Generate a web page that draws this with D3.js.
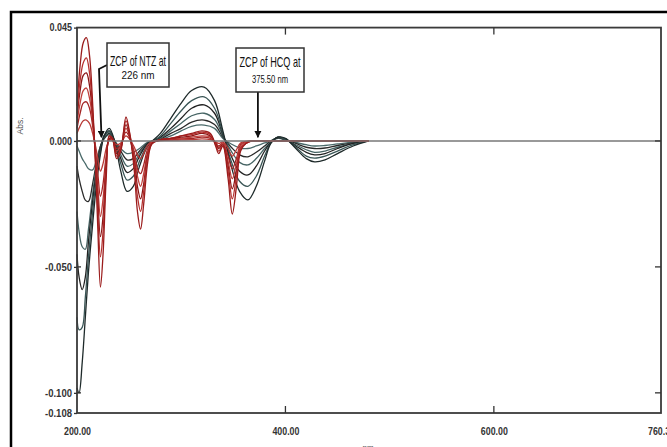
<!DOCTYPE html>
<html>
<head>
<meta charset="utf-8">
<script src="https://cdn.jsdelivr.net/npm/d3@7"></script>
<style>
  body { margin: 0; background: #fff; }
  svg { display: block; }
  .tick text { font-family: "Liberation Sans", Arial, sans-serif; }
</style>
</head>
<body>
<svg id="chart" width="667" height="447"></svg>
<script>
// wavelength grids (nm)
const redNm = [200, 203, 206, 209, 212, 215, 218, 220, 222.5, 225, 228, 231, 234, 238, 242, 247, 251, 255, 258, 261, 264, 268, 272, 280, 290, 300, 310, 320, 328, 333, 336, 340, 345, 349, 353, 357, 362, 368, 376, 390, 420, 480];
const darkNm = [200, 202, 205, 208, 211, 215, 219, 223, 226, 231, 236, 242, 248, 254, 260, 268, 280, 290, 300, 310, 322, 332, 340, 348, 356, 364, 372, 380, 386, 393, 400, 410, 420, 428, 438, 450, 465, 480];

// NTZ derivative spectra (red), smallest to largest
const red1 = [0.003, 0.006, 0.008, 0.0083, 0.007, 0.003, -0.0025, -0.007, -0.012, -0.009, -0.003, 0.0003, 0.0002, -0.0015, -0.0008, 0.002, 0.0004, -0.0025, -0.0055, -0.007, -0.005, -0.0016, -0.0002, 0.0001, 0.0003, 0.0004, 0.0005, 0.0008, 0.0005, -0.0004, -0.001, -0.0004, -0.003, -0.006, -0.0035, -0.0008, -0.0002, 0, 0, 0, 0, 0];
const red2 = [0.005, 0.011, 0.015, 0.0155, 0.013, 0.006, -0.005, -0.013, -0.022, -0.017, -0.006, 0.0005, 0.0005, -0.003, -0.0015, 0.0035, 0.0008, -0.0045, -0.011, -0.013, -0.0095, -0.003, -0.0005, 0.0002, 0.0005, 0.0008, 0.001, 0.0015, 0.001, -0.0008, -0.002, -0.0008, -0.006, -0.011, -0.007, -0.0015, -0.0004, 0, 0, 0, 0, 0];
const red3 = [0.007, 0.015, 0.020, 0.021, 0.017, 0.008, -0.006, -0.018, -0.030, -0.023, -0.008, 0.001, 0.0005, -0.004, -0.002, 0.005, 0.001, -0.006, -0.014, -0.018, -0.013, -0.004, -0.0005, 0.0003, 0.0008, 0.001, 0.0015, 0.002, 0.0015, -0.001, -0.0025, -0.001, -0.008, -0.015, -0.009, -0.002, -0.0005, 0, 0, 0, 0, 0];
const red4 = [0.009, 0.020, 0.026, 0.027, 0.022, 0.010, -0.008, -0.023, -0.038, -0.030, -0.010, 0.001, 0.001, -0.005, -0.003, 0.0065, 0.001, -0.008, -0.018, -0.023, -0.017, -0.005, -0.001, 0.0003, 0.001, 0.0015, 0.002, 0.003, 0.002, -0.001, -0.003, -0.0015, -0.010, -0.019, -0.012, -0.003, -0.001, 0, 0, 0, 0, 0];
const red5 = [0.011, 0.024, 0.031, 0.033, 0.027, 0.012, -0.010, -0.028, -0.046, -0.036, -0.012, 0.002, 0.001, -0.006, -0.003, 0.008, 0.002, -0.010, -0.022, -0.028, -0.020, -0.006, -0.001, 0.0005, 0.001, 0.002, 0.0025, 0.0035, 0.0025, -0.0015, -0.004, -0.002, -0.012, -0.023, -0.014, -0.003, -0.001, 0, 0, 0, 0, 0];
const red6 = [0.014, 0.030, 0.039, 0.041, 0.034, 0.015, -0.012, -0.035, -0.058, -0.045, -0.015, 0.002, 0.001, -0.007, -0.004, 0.0095, 0.002, -0.012, -0.028, -0.035, -0.025, -0.008, -0.001, 0.0005, 0.001, 0.002, 0.003, 0.004, 0.003, -0.002, -0.005, -0.002, -0.015, -0.029, -0.018, -0.004, -0.001, 0, 0, 0, 0, 0];

// HCQ derivative spectra (dark), smallest to largest
const dark1 = [-0.002, -0.004, -0.007, -0.009, -0.011, -0.0115, -0.007, -0.0015, 0.0008, 0.0025, 0.0, -0.003, -0.005, -0.0045, -0.003, -0.0005, 0.0005, 0.002, 0.004, 0.0058, 0.0063, 0.005, 0.001, -0.0012, -0.0027, -0.003, -0.002, -0.0008, 0, 0.001, 0.0004, -0.0006, -0.0015, -0.002, -0.0018, -0.0012, -0.0005, 0];
const dark2 = [-0.010, -0.015, -0.020, -0.0235, -0.024, -0.017, -0.008, -0.0015, 0.001, 0.003, 0.0, -0.004, -0.0075, -0.007, -0.004, -0.0008, 0.0008, 0.003, 0.005, 0.0075, 0.0083, 0.0065, 0.0015, -0.0025, -0.0055, -0.0063, -0.0045, -0.002, 0, 0.0012, 0.0005, -0.001, -0.0025, -0.003, -0.0028, -0.0018, -0.0008, 0];
const dark3 = [-0.028, -0.036, -0.042, -0.043, -0.035, -0.021, -0.009, -0.002, 0.0015, 0.0035, 0.0, -0.0055, -0.010, -0.009, -0.005, -0.001, 0.001, 0.004, 0.007, 0.010, 0.011, 0.0085, 0.002, -0.004, -0.0085, -0.0095, -0.007, -0.003, -0.0003, 0.0015, 0.0005, -0.0015, -0.0035, -0.0045, -0.004, -0.0025, -0.001, 0];
const dark4 = [-0.045, -0.054, -0.059, -0.054, -0.040, -0.024, -0.011, -0.002, 0.002, 0.004, 0.0, -0.007, -0.0125, -0.011, -0.006, -0.001, 0.0015, 0.005, 0.009, 0.013, 0.0143, 0.011, 0.0025, -0.006, -0.012, -0.0135, -0.010, -0.004, -0.0005, 0.0015, 0.0008, -0.002, -0.0045, -0.0055, -0.005, -0.003, -0.001, 0];
const dark5 = [-0.070, -0.075, -0.074, -0.062, -0.046, -0.028, -0.013, -0.003, 0.002, 0.004, 0.0, -0.009, -0.0155, -0.014, -0.008, -0.0015, 0.002, 0.007, 0.012, 0.016, 0.0175, 0.013, 0.003, -0.008, -0.016, -0.018, -0.014, -0.006, -0.0008, 0.0015, 0.0008, -0.0025, -0.006, -0.0068, -0.006, -0.004, -0.0015, 0];
const dark6 = [-0.098, -0.100, -0.088, -0.070, -0.052, -0.033, -0.016, -0.004, 0.002, 0.005, 0.0, -0.012, -0.020, -0.018, -0.010, -0.002, 0.003, 0.009, 0.015, 0.020, 0.0214, 0.016, 0.004, -0.010, -0.020, -0.0234, -0.018, -0.008, -0.001, 0.0015, 0.001, -0.003, -0.007, -0.0083, -0.0075, -0.005, -0.002, 0];

const yTicks = [0.045, 0, -0.05, -0.1, -0.108];
const xTicks = [200, 400, 600, 760.37];

const svg = d3.select('#chart');
const x = d3.scaleLinear().domain([200, 760.37]).range([77, 661]);
const y = d3.scaleLinear().domain([-0.108, 0.045]).range([413, 27.6]);

// outer frame of the figure
svg.append('rect')
    .attr('x', 11).attr('y', 12)
    .attr('width', 720).attr('height', 500)
    .attr('fill', 'none').attr('stroke', '#000').attr('stroke-width', 2.5);

// curves
const line = d3.line()
    .x(d => x(d[0]))
    .y(d => y(d[1]))
    .curve(d3.curveCatmullRom.alpha(0.5));

const darkSeries = [dark1, dark2, dark3, dark4, dark5, dark6];
const darkColors = ['#4a6a6a', '#2a2a2a', '#466464', '#222222', '#3a5656', '#1e2a2a'];
const redSeries = [red1, red2, red3, red4, red5, red6];
const redColors = ['#b83a36', '#a32424', '#c0403c', '#8a1616', '#b5302e', '#9b1c1c'];

const curves = svg.append('g');
darkSeries.forEach((s, i) => {
    curves.append('path')
        .attr('d', line(darkNm.map((n, j) => [n, s[j]])))
        .attr('fill', 'none')
        .attr('stroke', darkColors[i])
        .attr('stroke-width', 1.3);
});
redSeries.forEach((s, i) => {
    curves.append('path')
        .attr('d', line(redNm.map((n, j) => [n, s[j]])))
        .attr('fill', 'none')
        .attr('stroke', redColors[i])
        .attr('stroke-width', 1.3);
});

// zero line
svg.append('line')
    .attr('x1', x(200)).attr('x2', x(760.37))
    .attr('y1', y(0)).attr('y2', y(0))
    .attr('stroke', '#777').attr('stroke-width', 1.6);

// plot box
svg.append('rect')
    .attr('x', x(200)).attr('y', y(0.045))
    .attr('width', x(760.37) - x(200)).attr('height', y(-0.108) - y(0.045))
    .attr('fill', 'none').attr('stroke', '#3a3a3a').attr('stroke-width', 1.8);

// axes
const yAxis = d3.axisLeft(y)
    .tickValues(yTicks)
    .tickFormat(d => d.toFixed(3))
    .tickSize(3)
    .tickPadding(2);
const gy = svg.append('g').attr('transform', `translate(${x(200)},0)`).call(yAxis);

const xAxis = d3.axisBottom(x)
    .tickValues(xTicks)
    .tickFormat(d => d.toFixed(2))
    .tickSize(0)
    .tickPadding(15);
const gx = svg.append('g').attr('transform', `translate(0,${y(-0.108)})`).call(xAxis);

[gx, gy].forEach(g => {
    g.select('.domain').remove();
    g.selectAll('.tick text')
        .attr('font-size', 10.5)
        .attr('font-weight', 'bold')
        .attr('fill', '#333')
        // narrow lettering like the original export
        .attr('textLength', function() { return this.textContent.length * 4.5; })
        .attr('lengthAdjust', 'spacingAndGlyphs');
    g.selectAll('.tick line').attr('stroke', '#333').attr('stroke-width', 1.3);
});

// inward ticks on all four sides
const innerTicks = svg.append('g').attr('stroke', '#333').attr('stroke-width', 1.3);
[400, 600].forEach(v => {
    innerTicks.append('line').attr('x1', x(v)).attr('x2', x(v)).attr('y1', y(-0.108)).attr('y2', y(-0.108) - 7);
    innerTicks.append('line').attr('x1', x(v)).attr('x2', x(v)).attr('y1', y(0.045)).attr('y2', y(0.045) + 7);
});
[0, -0.05, -0.1].forEach(v => {
    innerTicks.append('line').attr('x1', x(200)).attr('x2', x(200) + 4).attr('y1', y(v)).attr('y2', y(v));
    innerTicks.append('line').attr('x1', x(760.37)).attr('x2', x(760.37) - 6).attr('y1', y(v)).attr('y2', y(v));
});

// axis titles
svg.append('text')
    .attr('transform', 'translate(23,126) rotate(-90)')
    .attr('text-anchor', 'middle')
    .attr('font-family', 'Liberation Sans, Arial, sans-serif')
    .attr('font-size', 8.5)
    .attr('fill', '#555')
    .text('Abs.');
svg.append('text')
    .attr('x', 368).attr('y', 450)
    .attr('text-anchor', 'middle')
    .attr('font-family', 'Liberation Sans, Arial, sans-serif')
    .attr('font-size', 8)
    .attr('fill', '#555')
    .text('nm');

// annotations
svg.append('defs').append('marker')
    .attr('id', 'arrowhead')
    .attr('viewBox', '0 -5 10 10')
    .attr('refX', 9).attr('refY', 0)
    .attr('orient', 'auto')
    .attr('markerWidth', 4).attr('markerHeight', 4)
    .append('path')
    .attr('d', 'M 0,-5 L 10,0 L 0,5 Z')
    .attr('fill', '#111');

const notes = [
    { line1: 'ZCP of NTZ at', line2: '226 nm', box: [107, 43, 62, 44], w1: 56, w2: 33, b1: 66, b2: 79,
      arrow: [[107, 65], [99, 69], [x(223.5), y(0.0015)]] },
    { line1: 'ZCP of HCQ at', line2: '375.50 nm', box: [236, 48, 68, 44], w1: 61, w2: 36, b1: 67, b2: 83,
      arrow: [[x(375.5) - 2, 92], [x(375.5) - 2, y(0.0015)]] }
];
notes.forEach(n => {
    svg.append('path')
        .attr('d', d3.line()(n.arrow))
        .attr('fill', 'none')
        .attr('stroke', '#111')
        .attr('stroke-width', 1.8)
        .attr('marker-end', 'url(#arrowhead)');
    svg.append('rect')
        .attr('x', n.box[0]).attr('y', n.box[1])
        .attr('width', n.box[2]).attr('height', n.box[3])
        .attr('fill', '#fff').attr('stroke', '#333').attr('stroke-width', 1.5);
    const cx = n.box[0] + n.box[2] / 2;
    svg.append('text')
        .attr('x', cx).attr('y', n.b1)
        .attr('text-anchor', 'middle')
        .attr('font-family', 'Liberation Sans, Arial, sans-serif')
        .attr('font-size', 15)
        .attr('textLength', n.w1).attr('lengthAdjust', 'spacingAndGlyphs')
        .attr('fill', '#111')
        .text(n.line1);
    svg.append('text')
        .attr('x', cx).attr('y', n.b2)
        .attr('text-anchor', 'middle')
        .attr('font-family', 'Liberation Sans, Arial, sans-serif')
        .attr('font-size', 11)
        .attr('textLength', n.w2).attr('lengthAdjust', 'spacingAndGlyphs')
        .attr('fill', '#111')
        .text(n.line2);
});
</script>
</body>
</html>
